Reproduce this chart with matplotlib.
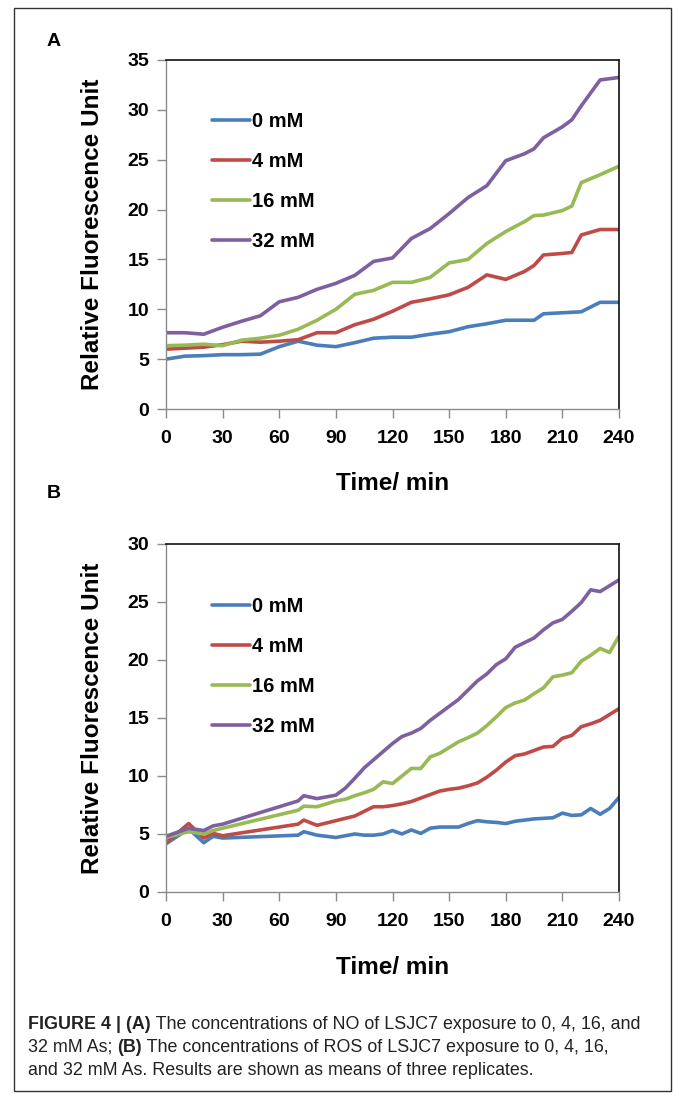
import matplotlib
matplotlib.use("Agg")
import matplotlib.pyplot as plt
from matplotlib.patches import Rectangle

# ---- panel A: NO ----
time_a = [0, 10, 20, 30, 40, 50, 60, 70, 80, 90, 100, 110, 120, 130, 140, 150,
          160, 170, 180, 190, 195, 200, 210, 215, 220, 230, 240]
no_0mM = [5.0, 5.3, 5.35, 5.45, 5.45, 5.5, 6.25, 6.8, 6.4, 6.25, 6.65, 7.1, 7.2, 7.2,
          7.5, 7.75, 8.25, 8.55, 8.9, 8.9, 8.9, 9.55, 9.65, 9.7, 9.75, 10.7, 10.7]
no_4mM = [6.0, 6.1, 6.2, 6.45, 6.8, 6.7, 6.8, 6.95, 7.65, 7.65, 8.45, 9.0, 9.8, 10.7,
          11.05, 11.45, 12.2, 13.45, 13.0, 13.8, 14.4, 15.45, 15.6, 15.7, 17.45, 18.0, 18.0]
no_16mM = [6.35, 6.4, 6.5, 6.35, 6.9, 7.1, 7.4, 8.0, 8.9, 10.0, 11.5, 11.9, 12.7, 12.7,
           13.2, 14.65, 15.0, 16.6, 17.8, 18.8, 19.4, 19.45, 19.9, 20.35, 22.7, 23.5, 24.35]
no_32mM = [7.65, 7.65, 7.5, 8.2, 8.8, 9.35, 10.75, 11.2, 12.0, 12.6, 13.4, 14.8, 15.15,
           17.1, 18.1, 19.6, 21.2, 22.4, 24.9, 25.6, 26.1, 27.2, 28.3, 29.0, 30.4, 33.0, 33.25]

# ---- panel B: ROS ----
time_b = [0, 12, 20, 25, 30, 70, 73, 80, 90, 95, 100, 105, 110, 115, 120, 125, 130,
          135, 140, 145, 150, 155, 160, 165, 170, 175, 180, 185, 190, 195, 200, 205,
          210, 215, 220, 225, 230, 235, 240]
ros_0mM = [4.15, 5.45, 4.25, 4.8, 4.65, 4.9, 5.2, 4.9, 4.7, 4.85, 5.0, 4.9, 4.9, 5.0,
           5.3, 5.0, 5.35, 5.05, 5.5, 5.6, 5.6, 5.6, 5.9, 6.15, 6.05, 6.0, 5.9, 6.1,
           6.2, 6.3, 6.35, 6.4, 6.8, 6.6, 6.65, 7.2, 6.7, 7.2, 8.15]
ros_4mM = [4.25, 5.9, 4.65, 5.05, 4.85, 5.85, 6.2, 5.75, 6.15, 6.35, 6.55, 6.95, 7.35,
           7.35, 7.45, 7.6, 7.8, 8.1, 8.4, 8.7, 8.85, 8.95, 9.15, 9.4, 9.9, 10.5, 11.2,
           11.75, 11.9, 12.2, 12.5, 12.55, 13.25, 13.5, 14.25, 14.5, 14.8, 15.3, 15.8]
ros_16mM = [4.7, 5.2, 5.0, 5.3, 5.5, 7.05, 7.4, 7.35, 7.85, 8.0, 8.3, 8.55, 8.85, 9.5,
            9.35, 10.0, 10.65, 10.65, 11.65, 11.95, 12.45, 12.95, 13.3, 13.7, 14.35,
            15.1, 15.9, 16.3, 16.55, 17.1, 17.6, 18.55, 18.7, 18.9, 19.9, 20.4, 21.0,
            20.65, 22.05]
ros_32mM = [4.8, 5.5, 5.3, 5.7, 5.85, 7.85, 8.3, 8.05, 8.35, 8.95, 9.8, 10.7, 11.4,
            12.1, 12.8, 13.4, 13.7, 14.1, 14.8, 15.4, 16.0, 16.6, 17.4, 18.2, 18.8,
            19.6, 20.1, 21.1, 21.5, 21.9, 22.6, 23.2, 23.5, 24.2, 24.95, 26.05, 25.9,
            26.4, 26.9]

labels = ["0 mM", "4 mM", "16 mM", "32 mM"]
colors = ["#4A7EBB", "#BE4B48", "#98B954", "#7D60A0"]
x_ticks = [0, 30, 60, 90, 120, 150, 180, 210, 240]

W, H = 673, 1095
BOLD = "Liberation Sans"

fig = plt.figure(figsize=(W / 100, H / 100), dpi=100)


def px_box(left, top, right, bottom):
    return [left / W, 1 - bottom / H, (right - left) / W, (bottom - top) / H]


def draw_panel(box, t, series, ymax, ystep, leg_top, letter, letter_y, label_y):
    ax = fig.add_axes(px_box(*box))
    for vals, lab, c in zip(series, labels, colors):
        ax.plot(t, vals, color=c, lw=2.6, label=lab, solid_capstyle="round")
    ax.set_xlim(0, 240)
    ax.set_ylim(0, ymax)
    ax.set_xticks(x_ticks)
    ax.set_yticks(range(0, ymax + 1, ystep))
    for s in ["left", "bottom"]:
        ax.spines[s].set_color("#8a8a8a")
        ax.spines[s].set_linewidth(1.0)
    for s in ["top", "right"]:
        ax.spines[s].set_color("#111111")
        ax.spines[s].set_linewidth(1.2)
    ax.tick_params(axis="both", direction="out", length=6.5, width=1.0,
                   color="#8a8a8a", labelsize=14)
    ax.tick_params(axis="x", pad=8.5)
    ax.tick_params(axis="y", pad=5.5)
    for lb in ax.get_xticklabels() + ax.get_yticklabels():
        lb.set_fontweight("bold")
        lb.set_family(BOLD)
    ax.legend(loc="upper left", bbox_to_anchor=(212 / W, 1 - leg_top / H),
              bbox_transform=fig.transFigure, frameon=False, borderpad=0,
              borderaxespad=0, handlelength=1.9, handletextpad=0.1,
              labelspacing=1.05, prop={"family": BOLD, "weight": "bold", "size": 14.5})
    cy = (box[1] + box[3]) / 2
    fig.text(93 / W, 1 - cy / H, "Relative Fluorescence Unit", rotation=90,
             ha="center", va="center", fontsize=17.5, fontweight="bold", family=BOLD)
    fig.text(393 / W, 1 - label_y / H, "Time/ min", ha="center", va="center",
             fontsize=17.5, fontweight="bold", family=BOLD)
    fig.text(47 / W, 1 - letter_y / H, letter, ha="left", va="center",
             fontsize=14, fontweight="bold", family=BOLD)
    return ax


draw_panel((166, 60, 619, 409), time_a, [no_0mM, no_4mM, no_16mM, no_32mM],
           35, 5, 112, "A", 42, 483)
draw_panel((166, 544, 619, 892), time_b, [ros_0mM, ros_4mM, ros_16mM, ros_32mM],
           30, 5, 597, "B", 493, 968)

# outer frame
fig.patches.append(Rectangle((14 / W, 1 - 1091 / H), (671 - 14) / W, (1091 - 8) / H,
                             transform=fig.transFigure, fill=False,
                             edgecolor="#333333", lw=1.0))

# caption with mixed weights
CAP_FONT = "Liberation Sans"
CAP_SIZE = 12.9

caption = [
    [("FIGURE 4 | (A)", "bold"),
     (" The concentrations of NO of LSJC7 exposure to 0, 4, 16, and", "normal")],
    [("32 mM As; ", "normal"), ("(B)", "bold"),
     (" The concentrations of ROS of LSJC7 exposure to 0, 4, 16,", "normal")],
    [("and 32 mM As. Results are shown as means of three replicates.", "normal")],
]
caption_y = [1029, 1052, 1075]

renderer = fig.canvas.get_renderer()
for line, yb in zip(caption, caption_y):
    x = 28 / W
    for txt, wt in line:
        t = fig.text(x, 1 - yb / H, txt, fontsize=CAP_SIZE, fontweight=wt,
                     family=CAP_FONT, color="#222222", ha="left", va="baseline")
        x += t.get_window_extent(renderer).width / W

fig.savefig("out.png", dpi=100)
